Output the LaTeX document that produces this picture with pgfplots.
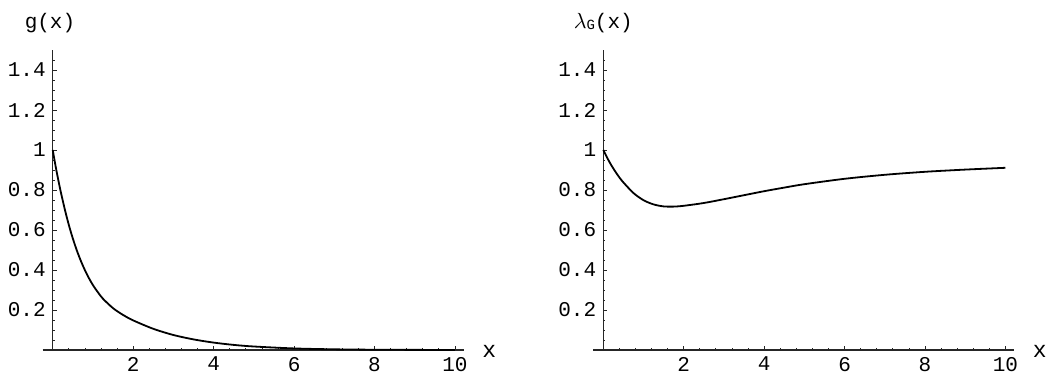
\documentclass[border=0pt]{standalone}
\usepackage{fontspec}
\setmainfont{Liberation Mono}
\usepackage{pgfplots}
\usepackage{pgfplotstable}
\pgfplotsset{compat=1.18}

\pgfplotstableread{
x g
0 1.0
0.05 0.942
0.1 0.888
0.15 0.838
0.2 0.79
0.3 0.703
0.4 0.625
0.5 0.557
0.6 0.497
0.7 0.445
0.8 0.399
0.9 0.359
1.0 0.324
1.125 0.288
1.25 0.256
1.5 0.209
1.75 0.175
2 0.148
2.5 0.106
3 0.075
3.5 0.053
4 0.037
4.5 0.0255
5 0.0175
6 0.0078
7 0.0034
8 0.0014
9 0.0006
10 0.0002
}\gdata

\pgfplotstableread{
x l
0 1.0
0.1 0.96
0.2 0.924
0.3 0.892
0.4 0.863
0.5 0.838
0.75 0.785
1.0 0.749
1.25 0.728
1.5 0.718
1.75 0.717
2 0.721
2.5 0.735
3 0.754
3.5 0.774
4 0.794
4.5 0.812
5 0.829
6 0.856
7 0.876
8 0.891
9 0.902
10 0.911
}\ldata

\pgfplotsset{mstyle/.style={
  scale only axis, axis lines=middle,
  axis line style={-, black!85, line width=0.6pt},
  xmin=-0.25, xmax=10.22, ymin=0, ymax=1.5,
  width=210.55pt, height=150pt,
  xtick={2,4,6,8,10}, ytick={0.2,0.4,0.6,0.8,1,1.2,1.4},
  minor xtick={0.4,0.8,1.2,1.6,2.4,2.8,3.2,3.6,4.4,4.8,5.2,5.6,6.4,6.8,7.2,7.6,8.4,8.8,9.2,9.6},
  minor ytick={0.05,0.1,0.15,0.25,0.3,0.35,0.45,0.5,0.55,0.65,0.7,0.75,0.85,0.9,0.95,1.05,1.1,1.15,1.25,1.3,1.35,1.45},
  tick align=inside, major tick length=1.9pt, minor tick length=1.1pt,
  tick style={black!85, line width=0.4pt},
  font=\fontsize{10.5}{12}\selectfont,
  /pgf/number format/assume math mode=true,
  clip=false,
  xlabel={x},
  every axis x label/.style={at={(axis description cs:1,0)}, anchor=west, xshift=5.8pt, yshift=-0.8pt, font=\fontsize{11.5}{13}\selectfont},
  every axis y label/.style={at={(axis description cs:0.02388,1)}, anchor=base, yshift=10.5pt},
}}

\begin{document}
\begin{tikzpicture}
\useasboundingbox (0,0) rectangle (523.5pt,187pt);
\begin{axis}[mstyle, at={(21.35pt,12pt)}, anchor=south west,
  ylabel={g(x)}, ylabel style={xshift=-1.4pt}]
\addplot[black, line width=0.9pt, smooth] table[x=x, y=g] {\gdata};
\end{axis}
\begin{axis}[mstyle, at={(296.6pt,12pt)}, anchor=south west,
  ylabel={$\lambda$\raisebox{-0.3pt}{\fontsize{7}{8}\selectfont G}(x)}]
\addplot[black, line width=0.9pt, smooth] table[x=x, y=l] {\ldata};
\end{axis}
\end{tikzpicture}
\end{document}
